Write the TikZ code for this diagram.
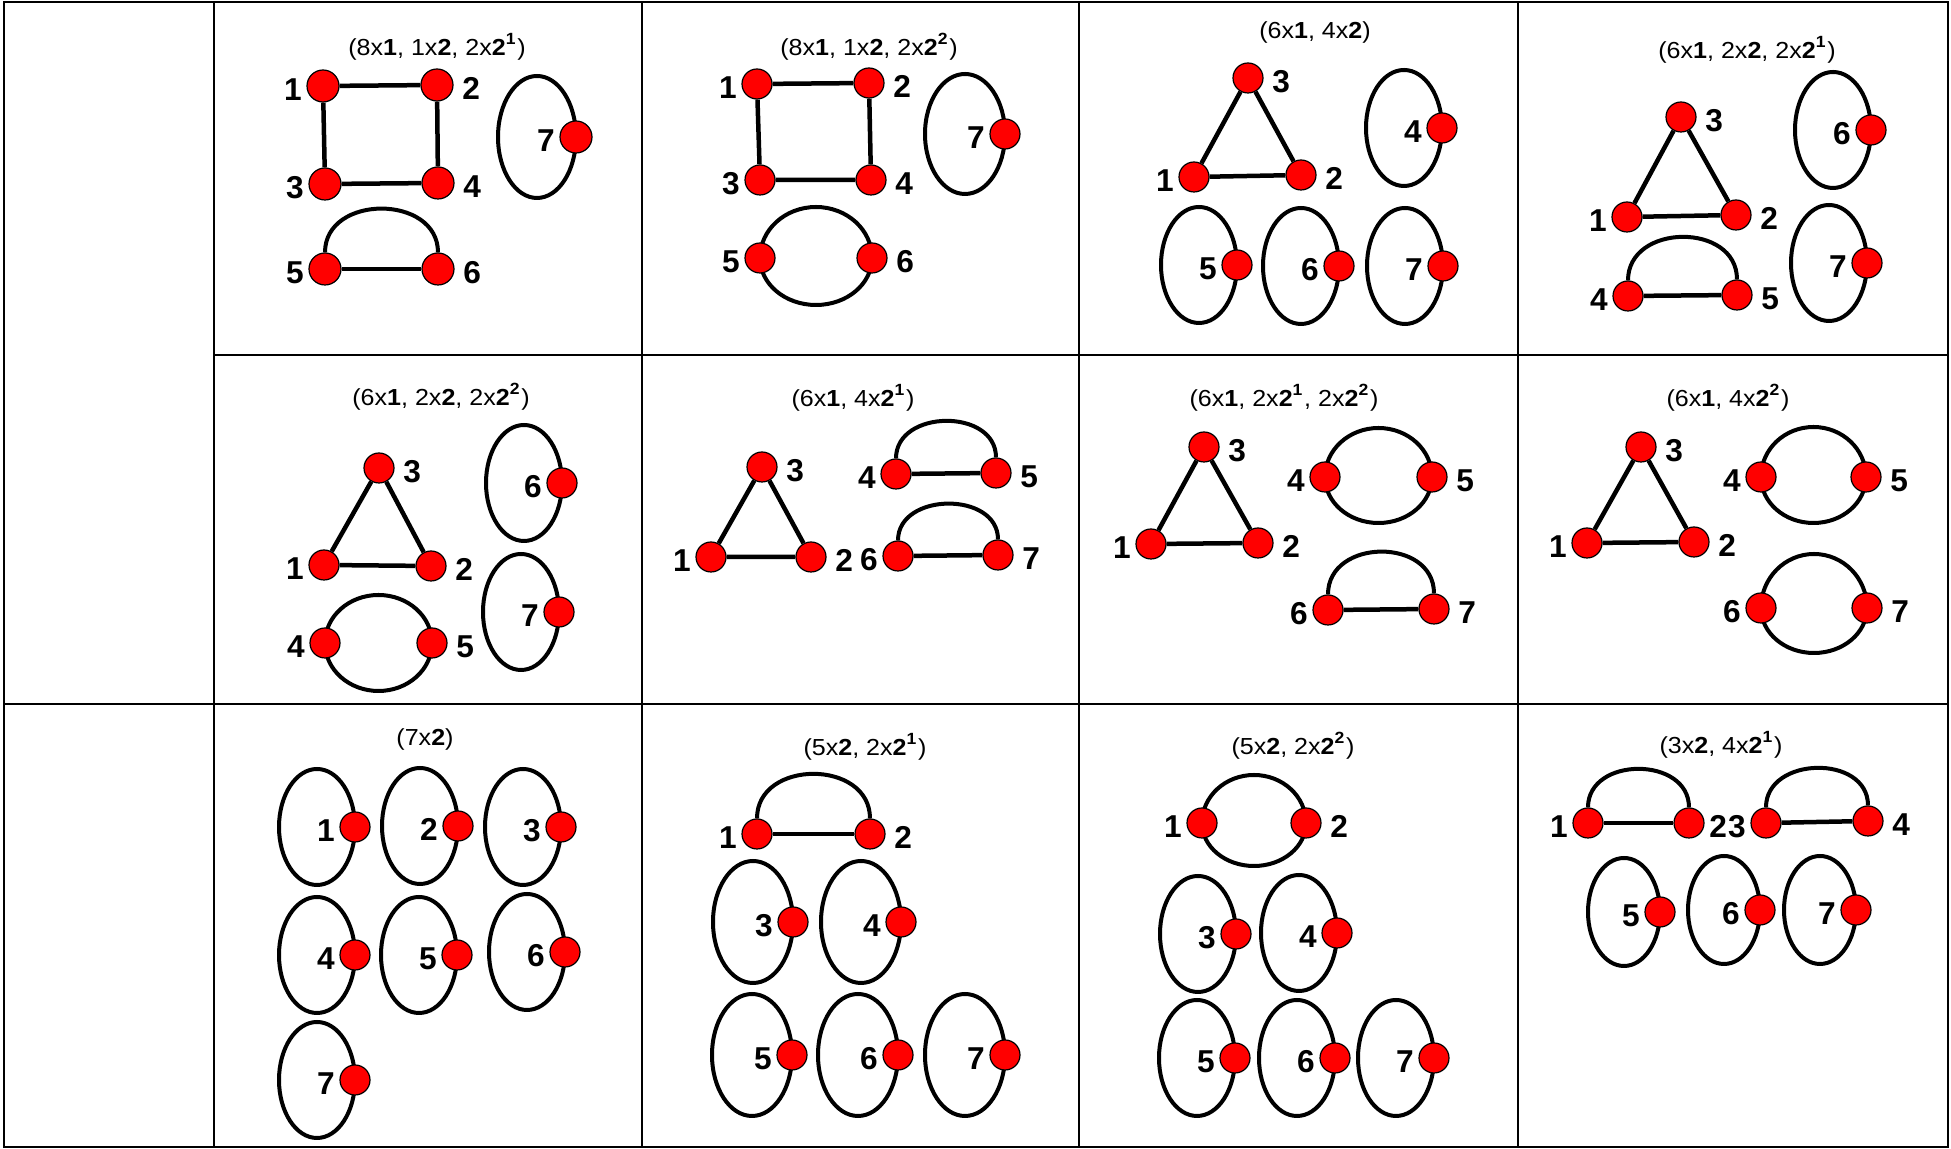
\documentclass[tikz,border=0pt]{standalone}
\usepackage{fontspec}
\setmainfont{Liberation Sans}
\newfontfamily\headfont[FakeStretch=1.08]{Liberation Sans}
\usetikzlibrary{backgrounds}
\tikzset{
  vtx/.style    ={circle,draw,line width=0.12mm,fill=red,minimum size=3mm,inner sep=0pt},
  bigvtx/.style ={vtx,minimum size=3.2mm},
  lbl/.style    ={font=\fontsize{9}{10}\selectfont\bfseries,inner sep=0.4mm,yshift=-0.35mm},
  lblr/.style   ={lbl,xshift=0.4mm},
  head/.style   ={font=\headfont\fontsize{6.6}{7}\selectfont,inner sep=0pt},
  bond/.style   ={line width=0.45mm},
  ring/.style   ={line width=0.4mm,x radius=3.8mm,y radius=5.8mm},
  gridline/.style={line width=0.25mm},
}

\begin{document}
\begin{tikzpicture}[x=0.1mm,y=-0.1mm]
  \useasboundingbox (0,0) rectangle (1951,1149);
  \draw[gridline] (4,2) rectangle (1948,1147);
  \draw[gridline] (214,2) -- (214,1147);
  \draw[gridline] (642,2) -- (642,1147);
  \draw[gridline] (1079,2) -- (1079,1147);
  \draw[gridline] (1518,2) -- (1518,1147);
  \draw[gridline] (214,355) -- (1948,355);
  \draw[gridline] (4,704) -- (1948,704);

  \node[head] (ta) at (437,47) {(8x\textbf{1}, 1x\textbf{2}, 2x\textbf{2}\textsuperscript{\textbf{1}})};
  \node[bigvtx,label={[lbl]left:1}]   (a1) at (323,86)  {};
  \node[bigvtx,label={[lblr]right:2}] (a2) at (437,85)  {};
  \node[bigvtx,label={[lbl]left:3}]   (a3) at (325,184) {};
  \node[bigvtx,label={[lblr]right:4}] (a4) at (438,183) {};
  \node[bigvtx,label={[lbl]left:5}]   (a5) at (325,269) {};
  \node[bigvtx,label={[lblr]right:6}] (a6) at (438,269) {};
  \node[bigvtx,label={[lbl]left:7}]   (a7) at (576,137) {};
  \draw[bond] (a1) -- (a2) -- (a4) -- (a3) -- (a1);
  \draw[bond] (a5) -- (a6);
  \draw[ring] (a5) .. controls +(0,-75) and +(0,-75) .. (a6);

  \node[head] (tb) at (869,47) {(8x\textbf{1}, 1x\textbf{2}, 2x\textbf{2}\textsuperscript{\textbf{2}})};
  \node[vtx,label={[lbl]left:1}]   (b1) at (757,84)  {};
  \node[vtx,label={[lblr]right:2}] (b2) at (869,83)  {};
  \node[vtx,label={[lbl]left:3}]   (b3) at (760,180) {};
  \node[vtx,label={[lblr]right:4}] (b4) at (871,180) {};
  \node[vtx,label={[lbl]left:5}]   (b5) at (760,258) {};
  \node[vtx,label={[lblr]right:6}] (b6) at (872,258) {};
  \node[vtx,label={[lbl]left:7}]   (b7) at (1005,134) {};
  \draw[bond] (b1) -- (b2) -- (b4) -- (b3) -- (b1);

  \node[head] (tc) at (1315,33) {(6x\textbf{1}, 4x\textbf{2})};
  \node[vtx,label={[lbl]left:1}]   (c1) at (1194,177) {};
  \node[vtx,label={[lblr]right:2}] (c2) at (1301,175) {};
  \node[vtx,label={[lblr]right:3}] (c3) at (1248,78)  {};
  \node[vtx,label={[lbl]left:4}]   (c4) at (1442,128) {};
  \node[vtx,label={[lbl]left:5}]   (c5) at (1237,265) {};
  \node[vtx,label={[lbl]left:6}]   (c6) at (1339,266) {};
  \node[vtx,label={[lbl]left:7}]   (c7) at (1443,266) {};
  \draw[bond] (c1) -- (c2) -- (c3) -- (c1);

  \node[head] (td) at (1747,50) {(6x\textbf{1}, 2x\textbf{2}, 2x\textbf{2}\textsuperscript{\textbf{1}})};
  \node[vtx,label={[lbl]left:1}]   (d1) at (1627,217) {};
  \node[vtx,label={[lblr]right:2}] (d2) at (1736,215) {};
  \node[vtx,label={[lblr]right:3}] (d3) at (1681,117) {};
  \node[vtx,label={[lbl]left:4}]   (d4) at (1628,296) {};
  \node[vtx,label={[lblr]right:5}] (d5) at (1737,295) {};
  \node[vtx,label={[lbl]left:6}]   (d6) at (1871,130) {};
  \node[vtx,label={[lbl]left:7}]   (d7) at (1867,263) {};
  \draw[bond] (d1) -- (d2) -- (d3) -- (d1);
  \draw[bond] (d4) -- (d5);
  \draw[ring] (d4) .. controls +(0,-73) and +(0,-73) .. (d5);

  \node[head] (te) at (441,397) {(6x\textbf{1}, 2x\textbf{2}, 2x\textbf{2}\textsuperscript{\textbf{2}})};
  \node[vtx,label={[lbl]left:1}]   (e1) at (324,565) {};
  \node[vtx,label={[lblr]right:2}] (e2) at (431,566) {};
  \node[vtx,label={[lblr]right:3}] (e3) at (379,468) {};
  \node[vtx,label={[lbl]left:4}]   (e4) at (325,643) {};
  \node[vtx,label={[lblr]right:5}] (e5) at (432,643) {};
  \node[vtx,label={[lbl]left:6}]   (e6) at (562,483) {};
  \node[vtx,label={[lbl]left:7}]   (e7) at (559,612) {};
  \draw[bond] (e1) -- (e2) -- (e3) -- (e1);

  \node[head] (tf) at (853,398) {(6x\textbf{1}, 4x\textbf{2}\textsuperscript{\textbf{1}})};
  \node[vtx,label={[lbl]left:1}]   (f1) at (711,557) {};
  \node[vtx,label={[lblr]right:2}] (f2) at (811,557) {};
  \node[vtx,label={[lblr]right:3}] (f3) at (762,467) {};
  \node[vtx,label={[lbl]left:4}]   (f4) at (896,474) {};
  \node[vtx,label={[lblr]right:5}] (f5) at (996,473) {};
  \node[vtx,label={[lbl]left:6}]   (f6) at (898,556) {};
  \node[vtx,label={[lblr]right:7}] (f7) at (998,555) {};
  \draw[bond] (f1) -- (f2) -- (f3) -- (f1);
  \draw[bond] (f4) -- (f5);
  \draw[ring] (f4) .. controls +(0,-65) and +(0,-65) .. (f5);
  \draw[bond] (f6) -- (f7);
  \draw[ring] (f6) .. controls +(0,-64) and +(0,-64) .. (f7);

  \node[head] (tg) at (1284,398) {(6x\textbf{1}, 2x\textbf{2}\textsuperscript{\textbf{1}}, 2x\textbf{2}\textsuperscript{\textbf{2}})};
  \node[vtx,label={[lbl]left:1}]   (g1) at (1151,544) {};
  \node[vtx,label={[lblr]right:2}] (g2) at (1258,543) {};
  \node[vtx,label={[lblr]right:3}] (g3) at (1204,447) {};
  \node[vtx,label={[lbl]left:4}]   (g4) at (1325,477) {};
  \node[vtx,label={[lblr]right:5}] (g5) at (1432,477) {};
  \node[vtx,label={[lbl]left:6}]   (g6) at (1328,610) {};
  \node[vtx,label={[lblr]right:7}] (g7) at (1434,609) {};
  \draw[bond] (g1) -- (g2) -- (g3) -- (g1);
  \draw[bond] (g6) -- (g7);
  \draw[ring] (g6) .. controls +(0,-72) and +(0,-72) .. (g7);

  \node[head] (th) at (1728,398) {(6x\textbf{1}, 4x\textbf{2}\textsuperscript{\textbf{2}})};
  \node[vtx,label={[lbl]left:1}]   (h1) at (1587,543) {};
  \node[vtx,label={[lblr]right:2}] (h2) at (1694,542) {};
  \node[vtx,label={[lblr]right:3}] (h3) at (1641,447) {};
  \node[vtx,label={[lbl]left:4}]   (h4) at (1761,477) {};
  \node[vtx,label={[lblr]right:5}] (h5) at (1866,477) {};
  \node[vtx,label={[lbl]left:6}]   (h6) at (1761,608) {};
  \node[vtx,label={[lblr]right:7}] (h7) at (1867,608) {};
  \draw[bond] (h1) -- (h2) -- (h3) -- (h1);

  \node[head] (ti) at (425,740) {(7x\textbf{2})};
  \node[vtx,label={[lbl]left:1}] (i1) at (355,827)  {};
  \node[vtx,label={[lbl]left:2}] (i2) at (458,826)  {};
  \node[vtx,label={[lbl]left:3}] (i3) at (561,827)  {};
  \node[vtx,label={[lbl]left:4}] (i4) at (355,955)  {};
  \node[vtx,label={[lbl]left:5}] (i5) at (457,955)  {};
  \node[vtx,label={[lbl]left:6}] (i6) at (565,952)  {};
  \node[vtx,label={[lbl]left:7}] (i7) at (355,1080) {};

  \node[head] (tj) at (865,747) {(5x\textbf{2}, 2x\textbf{2}\textsuperscript{\textbf{1}})};
  \node[vtx,label={[lbl]left:1}]   (j1) at (757,834)  {};
  \node[vtx,label={[lblr]right:2}] (j2) at (870,834)  {};
  \node[vtx,label={[lbl]left:3}]   (j3) at (793,922)  {};
  \node[vtx,label={[lbl]left:4}]   (j4) at (901,922)  {};
  \node[vtx,label={[lbl]left:5}]   (j5) at (792,1055) {};
  \node[vtx,label={[lbl]left:6}]   (j6) at (898,1055) {};
  \node[vtx,label={[lbl]left:7}]   (j7) at (1005,1055) {};
  \draw[bond] (j1) -- (j2);
  \draw[ring] (j1) .. controls +(0,-75) and +(0,-75) .. (j2);

  \node[head] (tk) at (1293,746) {(5x\textbf{2}, 2x\textbf{2}\textsuperscript{\textbf{2}})};
  \node[vtx,label={[lbl]left:1}]   (k1) at (1202,823)  {};
  \node[vtx,label={[lblr]right:2}] (k2) at (1306,823)  {};
  \node[vtx,label={[lbl]left:3}]   (k3) at (1236,934)  {};
  \node[vtx,label={[lbl]left:4}]   (k4) at (1337,933)  {};
  \node[vtx,label={[lbl]left:5}]   (k5) at (1235,1058) {};
  \node[vtx,label={[lbl]left:6}]   (k6) at (1335,1058) {};
  \node[vtx,label={[lbl]left:7}]   (k7) at (1434,1058) {};

  \node[head] (tl) at (1721,745) {(3x\textbf{2}, 4x\textbf{2}\textsuperscript{\textbf{1}})};
  \node[vtx,label={[lbl]left:1}]   (l1) at (1588,823) {};
  \node[vtx,label={[lbl]right:2}]  (l2) at (1689,823) {};
  \node[vtx,label={[lbl]left:3}]   (l3) at (1766,823) {};
  \node[vtx,label={[lblr]right:4}] (l4) at (1868,821) {};
  \node[vtx,label={[lbl]left:5}]   (l5) at (1660,912) {};
  \node[vtx,label={[lbl]left:6}]   (l6) at (1760,910) {};
  \node[vtx,label={[lbl]left:7}]   (l7) at (1856,910) {};
  \draw[bond] (l1) -- (l2);
  \draw[ring] (l1) .. controls +(0,-67) and +(0,-67) .. (l2);
  \draw[bond] (l3) -- (l4);
  \draw[ring] (l3) .. controls +(0,-67) and +(0,-67) .. (l4);

  \begin{scope}[on background layer]
    \fill[white] (0,0) rectangle (1951,1149);
    \draw[ring] (b5.center) arc[start angle=180,end angle=0,x radius=5.6mm,y radius=5.1mm];
    \draw[ring] (b5.center) arc[start angle=180,end angle=360,x radius=5.6mm,y radius=4.7mm];
    \draw[ring] (e4.center) arc[start angle=180,end angle=0,x radius=5.35mm,y radius=4.8mm];
    \draw[ring] (e4.center) arc[start angle=180,end angle=360,x radius=5.35mm,y radius=4.8mm];
    \draw[ring] (g4.center) arc[start angle=180,end angle=0,x radius=5.35mm,y radius=4.9mm];
    \draw[ring] (g4.center) arc[start angle=180,end angle=360,x radius=5.35mm,y radius=4.6mm];
    \draw[ring] (h4.center) arc[start angle=180,end angle=0,x radius=5.25mm,y radius=5mm];
    \draw[ring] (h4.center) arc[start angle=180,end angle=360,x radius=5.25mm,y radius=4.6mm];
    \draw[ring] (h6.center) arc[start angle=180,end angle=0,x radius=5.3mm,y radius=5.4mm];
    \draw[ring] (h6.center) arc[start angle=180,end angle=360,x radius=5.3mm,y radius=4.5mm];
    \draw[ring] (k1.center) arc[start angle=180,end angle=0,x radius=5.2mm,y radius=4.8mm];
    \draw[ring] (k1.center) arc[start angle=180,end angle=360,x radius=5.2mm,y radius=4.3mm];
    \draw[ring,x radius=3.9mm,y radius=6.1mm] (a7.center) arc[start angle=0,end angle=360];
    \draw[ring,x radius=4mm,y radius=6mm] (b7.center) arc[start angle=0,end angle=360];
    \draw[ring] (c4.center) arc[start angle=0,end angle=360];
    \draw[ring] (c5.center) arc[start angle=0,end angle=360];
    \draw[ring] (c6.center) arc[start angle=0,end angle=360];
    \draw[ring] (c7.center) arc[start angle=0,end angle=360];
    \draw[ring] (d6.center) arc[start angle=0,end angle=360];
    \draw[ring] (d7.center) arc[start angle=0,end angle=360];
    \draw[ring] (e6.center) arc[start angle=0,end angle=360];
    \draw[ring] (e7.center) arc[start angle=0,end angle=360];
    \draw[ring] (i1.center) arc[start angle=0,end angle=360];
    \draw[ring] (i2.center) arc[start angle=0,end angle=360];
    \draw[ring] (i3.center) arc[start angle=0,end angle=360];
    \draw[ring] (i4.center) arc[start angle=0,end angle=360];
    \draw[ring] (i5.center) arc[start angle=0,end angle=360];
    \draw[ring] (i6.center) arc[start angle=0,end angle=360];
    \draw[ring] (i7.center) arc[start angle=0,end angle=360];
    \draw[ring,x radius=4mm,y radius=6.1mm] (j3.center) arc[start angle=0,end angle=360];
    \draw[ring,x radius=4mm,y radius=6.1mm] (j4.center) arc[start angle=0,end angle=360];
    \draw[ring,x radius=4mm,y radius=6.1mm] (j5.center) arc[start angle=0,end angle=360];
    \draw[ring,x radius=4mm,y radius=6.1mm] (j6.center) arc[start angle=0,end angle=360];
    \draw[ring,x radius=4mm,y radius=6.1mm] (j7.center) arc[start angle=0,end angle=360];
    \draw[ring] (k3.center) arc[start angle=0,end angle=360];
    \draw[ring] (k4.center) arc[start angle=0,end angle=360];
    \draw[ring] (k5.center) arc[start angle=0,end angle=360];
    \draw[ring] (k6.center) arc[start angle=0,end angle=360];
    \draw[ring] (k7.center) arc[start angle=0,end angle=360];
    \draw[ring,x radius=3.6mm,y radius=5.4mm] (l5.center) arc[start angle=0,end angle=360];
    \draw[ring,x radius=3.6mm,y radius=5.4mm] (l6.center) arc[start angle=0,end angle=360];
    \draw[ring,x radius=3.6mm,y radius=5.4mm] (l7.center) arc[start angle=0,end angle=360];
  \end{scope}
\end{tikzpicture}
\end{document}
